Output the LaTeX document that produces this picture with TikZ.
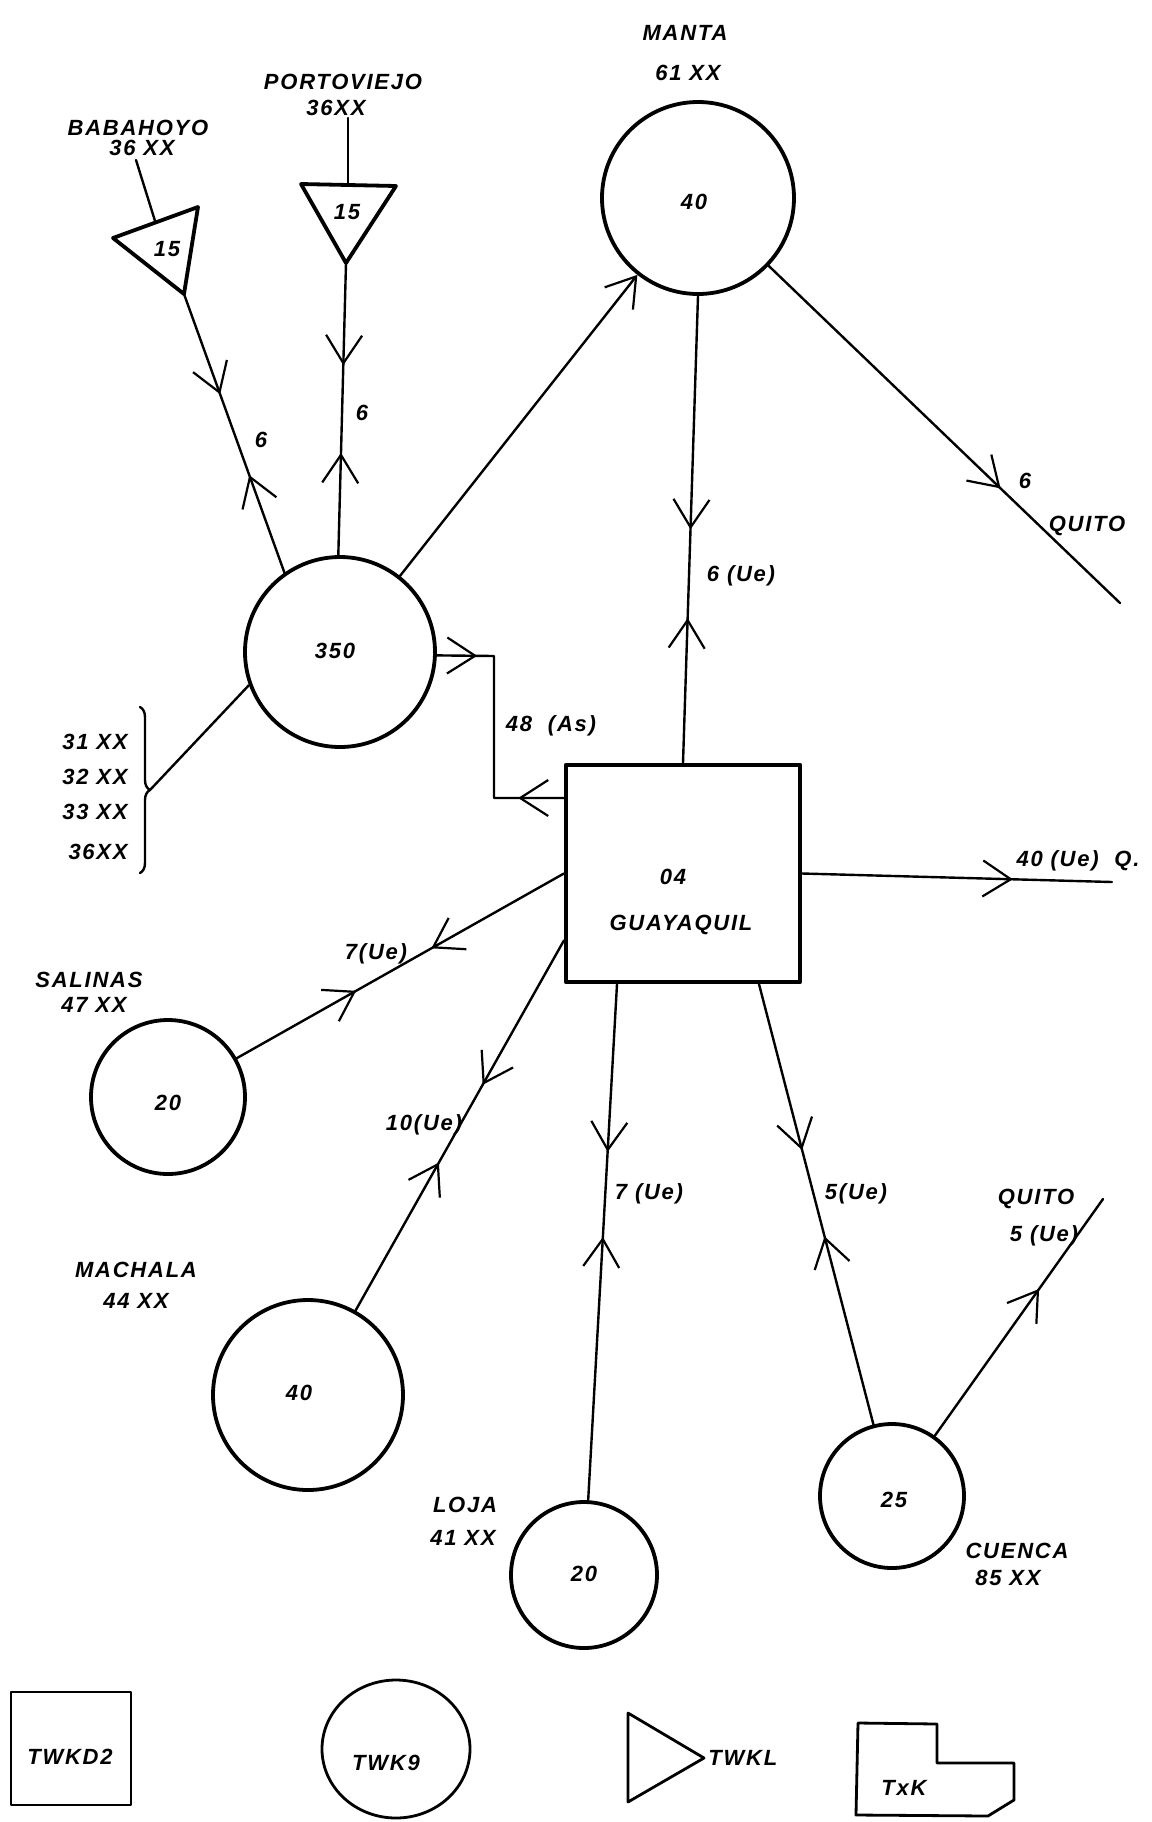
\documentclass[tikz,border=0pt]{standalone}
\usepackage{fontspec}
\setmainfont{Liberation Sans}
\newfontfamily\lerfont[LetterSpace=8]{Liberation Sans}
\usetikzlibrary{arrows.meta,decorations.markings,decorations.pathreplacing,calc,shapes.geometric}
\begin{document}
\begin{tikzpicture}[x=0.5pt,y=-0.5pt,line cap=round,line join=round,
  lbl/.style={font=\lerfont\bfseries\itshape\fontsize{11}{13}\selectfont, inner sep=0pt},
  city/.style={circle, draw, line width=1.9pt, inner sep=0pt},
  tri/.style={draw, line width=1.9pt},
  link/.style={line width=1.2pt},
  legendshape/.style={draw, line width=1.4pt},
  vtip/.tip={Straight Barb[length=14pt,width=18pt,line width=1.1pt]},
  fwd/.style={postaction={decorate,decoration={markings,mark=at position #1 with {\arrow{vtip}}}}},
  bwd/.style={postaction={decorate,decoration={markings,mark=at position #1 with {\arrowreversed{vtip}}}}},
]
\useasboundingbox[fill=white] (0,0) rectangle (1152,1822);

% ---------- main nodes ----------
\node[city, minimum size=96pt] (manta) at (698,198) {};
\node[city, minimum size=95pt] (p350) at (340,652) {};
\node[draw, line width=2.1pt, minimum width=117pt, minimum height=108.5pt, inner sep=0pt] (guay) at (683,873.5) {};
\node[city, minimum size=77pt] (salinas) at (168,1097) {};
\node[city, minimum size=95pt] (machala) at (308,1395) {};
\node[city, minimum size=73pt] (loja) at (584,1575) {};
\node[city, minimum size=72pt] (cuenca) at (892,1496) {};

% triangles
\coordinate (b1) at (113,238); \coordinate (b2) at (198,207); \coordinate (b3) at (184,294);
\draw[tri] (b1) -- (b2) -- (b3) -- cycle;
\coordinate (p1) at (301,184); \coordinate (p2) at (396,186); \coordinate (p3) at (346,263);
\draw[tri] (p1) -- (p2) -- (p3) -- cycle;
\coordinate (btop) at ($(b1)!0.5!(b2)$);
\coordinate (ptop) at (348,185);
\coordinate (blead) at (136,160);
\coordinate (plead) at (348,118);

% free ends
\coordinate (quitoA) at (1120,603);
\coordinate (qA) at (1112,882);
\coordinate (qB) at (1103,1199);
\coordinate (c48a) at (494,656);
\coordinate (c48b) at (494,798);
\coordinate (bt) at (150,790);

% ---------- texts ----------
\node[lbl] (tmanta) at (685,33) {MANTA};
\node[lbl] (tmanta2) at (688,73) {61 XX};
\node[lbl] (n40a) at (694,202) {40};
\node[lbl] (tporto) at (343,82) {PORTOVIEJO};
\node[lbl] (tporto2) at (336,108) {36XX};
\node[lbl] (tbaba) at (138,128) {BABAHOYO};
\node[lbl] (tbaba2) at (142,148) {36 XX};
\node[lbl] (n15a) at (167,249) {15};
\node[lbl] (n15b) at (347,212) {15};
\node[lbl] (l6a) at (261,440) {6};
\node[lbl] (l6b) at (362,413) {6};
\node[lbl] (n350) at (335,651) {350};
\node[lbl] (l6c) at (1025,481) {6};
\node[lbl] (tquito1) at (1087,526) {QUITO};
\node[lbl] (l6ue) at (741,576) {6 (Ue)};
\node[lbl] (l48) at (551,726) {48 \ (As)};
\node[lbl, anchor=east] (t31) at (128,742) {31 XX};
\node[lbl, anchor=east] (t32) at (128,777) {32 XX};
\node[lbl, anchor=east] (t33) at (128,812) {33 XX};
\node[lbl, anchor=east] (t36) at (128,852) {36XX};
\node[lbl] (t04) at (673,877) {04};
\node[lbl] (tguay) at (681,925) {GUAYAQUIL};
\node[lbl] (l40q) at (1078,861) {40 (Ue) \ Q.};
\node[lbl] (l7a) at (376,954) {7(Ue)};
\node[lbl] (tsal) at (89,980) {SALINAS};
\node[lbl] (tsal2) at (94,1005) {47 XX};
\node[lbl] (n20a) at (168,1103) {20};
\node[lbl] (l10) at (424,1125) {10(Ue)};
\node[lbl] (tmach) at (136,1270) {MACHALA};
\node[lbl] (tmach2) at (136,1301) {44 XX};
\node[lbl] (n40b) at (299,1393) {40};
\node[lbl] (l7b) at (649,1194) {7 (Ue)};
\node[lbl] (l5a) at (856,1194) {5(Ue)};
\node[lbl] (tquito2) at (1036,1199) {QUITO};
\node[lbl] (l5b) at (1044,1236) {5 (Ue)};
\node[lbl] (tloja) at (465,1505) {LOJA};
\node[lbl] (tloja2) at (463,1538) {41 XX};
\node[lbl] (n20b) at (584,1574) {20};
\node[lbl] (n25) at (894,1500) {25};
\node[lbl] (tcue) at (1017,1551) {CUENCA};
\node[lbl] (tcue2) at (1008,1578) {85 XX};

% ---------- connectors ----------
\draw[link] (blead) -- (btop);
\draw[link] (plead) -- (ptop);
\draw[link, fwd=0.36, bwd=0.65] (b3) -- (p350.125);
\draw[link, fwd=0.35, bwd=0.65] (p3) -- (p350.91);
\draw[link, -{Straight Barb[length=14pt,width=18pt,line width=1.1pt]}] (p350) -- (manta);
\draw[link, fwd=0.66] (manta) -- (quitoA);
\draw[link, fwd=0.50, bwd=0.69] (manta.south) -- (guay.north);
\draw[link, fwd=0.15, bwd=0.83] (p350.-2) -- (c48a) -- (c48b) -- (c48b -| guay.west);
\draw[link, decorate, decoration={brace, amplitude=5pt}] (140,707) -- (140,873);
\draw[link] (bt) -- (p350.200);
\draw[link, fwd=0.68] (guay.east) -- (qA);
\draw[link, fwd=0.405, bwd=0.635] (guay.west) -- (salinas);
\draw[link, fwd=0.39, bwd=0.60] ($(guay.west)+(0,67)$) -- (machala);
\draw[link, fwd=0.325, bwd=0.49] ($(guay.south)+(-66,0)$) -- (loja);
\draw[link, fwd=0.377, bwd=0.573] ($(guay.south)+(76,0)$) -- (cuenca);
\draw[link, fwd=0.62] (cuenca) -- (qB);

% ---------- legend ----------
\node[legendshape, minimum width=60pt, minimum height=56.5pt, inner sep=0pt] (lgsq) at (71,1748.5) {};
\node[lbl] (tlgsq) at (70,1757) {TWKD2};
\node[legendshape, ellipse, minimum width=74pt, minimum height=69pt, inner sep=0pt] (lgel) at (396,1749) {};
\node[lbl] (tlgel) at (386,1763) {TWK9};
\coordinate (lt1) at (628,1713); \coordinate (lt2) at (628,1802); \coordinate (lt3) at (704,1758);
\draw[legendshape] (lt1) -- (lt3) -- (lt2) -- cycle;
\node[lbl, anchor=west] (tlgtr) at (708,1758) {TWKL};
\draw[legendshape] (858,1723) -- (937,1724) -- (937,1763) -- (1014,1763) -- (1014,1800) -- (988,1816) -- (856,1815) -- cycle;
\node[lbl] (tlgtx) at (904,1788) {TxK};
\end{tikzpicture}
\end{document}
